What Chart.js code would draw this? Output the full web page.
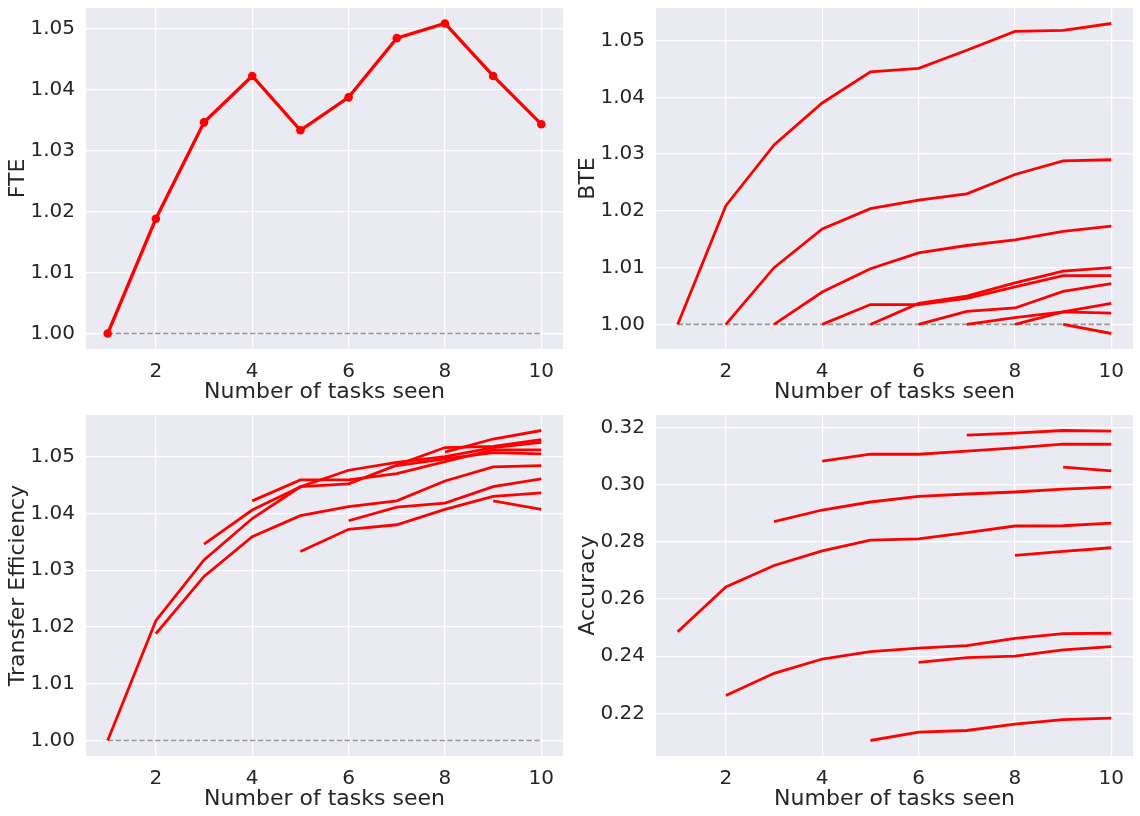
<!DOCTYPE html>
<html><head><meta charset="utf-8">
<script src="https://cdn.jsdelivr.net/npm/chart.js@4.4.1/dist/chart.umd.min.js"></script>
<style>
html,body{margin:0;padding:0;background:#fff;}
body{width:1140px;height:816px;position:relative;overflow:hidden;}
.p{position:absolute;width:570px;height:408px;}
canvas{display:block;}
</style></head><body>
<div class="p" style="left:0;top:0"><canvas id="c1" width="570" height="408"></canvas></div>
<div class="p" style="left:570px;top:0"><canvas id="c2" width="570" height="408"></canvas></div>
<div class="p" style="left:0;top:407px"><canvas id="c3" width="570" height="408"></canvas></div>
<div class="p" style="left:570px;top:407px"><canvas id="c4" width="570" height="408"></canvas></div>
<script>
// ---------- data ----------
const tasks = [1,2,3,4,5,6,7,8,9,10];
const xTicks = [2,4,6,8,10];
const effTicks = [1.00,1.01,1.02,1.03,1.04,1.05];
const accTicks = [0.22,0.24,0.26,0.28,0.30,0.32];

const fteValues = [1.000,1.0188,1.0346,1.0422,1.0333,1.0387,1.0484,1.0508,1.0422,1.0343];

const bteTask1 = [1.000,1.0209,1.0316,1.0390,1.0445,1.0451,1.0483,1.0516,1.0518,1.0530];
const bteTask2 = [1.000,1.0100,1.0168,1.0204,1.0219,1.0230,1.0264,1.0288,1.0290];
const bteTask3 = [1.000,1.0057,1.0098,1.0126,1.0139,1.0149,1.0164,1.0173];
const bteTask4 = [1.000,1.0035,1.0035,1.0046,1.0066,1.0086,1.0086];
const bteTask5 = [1.000,1.0037,1.0050,1.0073,1.0094,1.0100];
const bteTask6 = [1.000,1.0023,1.0029,1.0058,1.0072];
const bteTask7 = [1.000,1.0012,1.0022,1.0020];
const bteTask8 = [1.000,1.0022,1.0037];
const bteTask9 = [1.000,0.9984];
const bteTask10 = [1.000];

const teTask1 = [1.000,1.0211,1.0318,1.0391,1.0447,1.0452,1.0485,1.0516,1.0518,1.0530];
const teTask2 = [1.0188,1.0289,1.0359,1.0396,1.0412,1.0422,1.0457,1.0482,1.0484];
const teTask3 = [1.0346,1.0406,1.0447,1.0476,1.0490,1.0500,1.0516,1.0525];
const teTask4 = [1.0422,1.0459,1.0459,1.0470,1.0491,1.0512,1.0512];
const teTask5 = [1.0333,1.0372,1.0380,1.0407,1.0430,1.0436];
const teTask6 = [1.0387,1.0411,1.0418,1.0447,1.0461];
const teTask7 = [1.0484,1.0496,1.0507,1.0505];
const teTask8 = [1.0508,1.0531,1.0546];
const teTask9 = [1.0422,1.0407];
const teTask10 = [1.0343];

const accTask1 = [0.2485,0.2642,0.2717,0.2768,0.2806,0.2810,0.2832,0.2855,0.2856,0.2865];
const accTask2 = [0.2262,0.2340,0.2390,0.2416,0.2428,0.2437,0.2462,0.2479,0.2480];
const accTask3 = [0.2870,0.2911,0.2939,0.2959,0.2967,0.2974,0.2984,0.2991];
const accTask4 = [0.3082,0.3106,0.3106,0.3117,0.3128,0.3141,0.3141];
const accTask5 = [0.2105,0.2134,0.2140,0.2162,0.2178,0.2183];
const accTask6 = [0.2378,0.2395,0.2400,0.2422,0.2433];
const accTask7 = [0.3173,0.3180,0.3189,0.3187];
const accTask8 = [0.2752,0.2766,0.2779];
const accTask9 = [0.3061,0.3048];

const xTitle = 'Number of tasks seen';

// ---------- helpers ----------
const FONT = "'DejaVu Sans', sans-serif";
const TXT = '#262626';
const RED = '#ff0000';

// a series that begins at task `start` (1-based)
function pts(values, start){ return values.map((v,i)=>({x:tasks[start-1+i], y:v})); }

const bgPlugin = {
  id:'bg',
  beforeDraw(chart){
    const {ctx, chartArea:a} = chart;
    ctx.save(); ctx.fillStyle = '#EAEAF2';
    ctx.fillRect(a.left, a.top, a.right-a.left, a.bottom-a.top);
    ctx.restore();
  }
};

function makeChart(id, datasets, yTitle, yTicksArr, decimals, withBaseline){
  let all = [];
  datasets.forEach(d=>d.data.forEach(p=>all.push(p.y)));
  const ymin = Math.min(...all), ymax = Math.max(...all);
  const my = (ymax-ymin)*0.05;
  const xmin = Math.min(...tasks), xmax = Math.max(...tasks);
  const mx = (xmax-xmin)*0.05;
  const ds = datasets.slice();
  if (withBaseline){
    ds.push({data:[{x:xmin,y:1},{x:xmax,y:1}], borderColor:'#979797', borderWidth:1.6,
      borderDash:[5.5,2.4], pointRadius:0, order:5, fill:false});
  }
  return new Chart(document.getElementById(id), {
    type:'line',
    data:{datasets:ds},
    options:{
      responsive:false, animation:false, devicePixelRatio:1,
      layout:{padding:{top:8, right:7, left:0, bottom:0}},
      plugins:{legend:{display:false}, tooltip:{enabled:false}},
      scales:{
        x:{type:'linear', min:xmin-mx, max:xmax+mx,
          afterBuildTicks:s=>{s.ticks = xTicks.map(v=>({value:v}));},
          afterFit:s=>{s.height = 59; s.paddingLeft = 0; s.paddingRight = 0;},
          grid:{color:'#ffffff', lineWidth:1.25, drawTicks:false},
          border:{display:false},
          ticks:{padding:11, color:TXT, font:{family:FONT, size:20}, callback:v=>String(v), maxRotation:0},
          title:{display:true, text:xTitle, color:TXT, font:{family:FONT, size:22}, padding:{top:0,bottom:3}}
        },
        y:{type:'linear', min:ymin-my, max:ymax+my,
          afterBuildTicks:s=>{s.ticks = yTicksArr.map(v=>({value:v}));},
          afterFit:s=>{s.width = 86; s.paddingTop = 0; s.paddingBottom = 0;},
          grid:{color:'#ffffff', lineWidth:1.25, drawTicks:false},
          border:{display:false},
          ticks:{padding:11, color:TXT, font:{family:FONT, size:20}, callback:v=>Number(v).toFixed(decimals)},
          title:{display:true, text:yTitle, color:TXT, font:{family:FONT, size:22}, padding:{top:5,bottom:0}}
        }
      }
    },
    plugins:[bgPlugin]
  });
}

function redLine(data, extra){
  return Object.assign({data, borderColor:RED, backgroundColor:RED, borderWidth:2.8,
    pointRadius:0, fill:false, tension:0, order:1}, extra||{});
}

// FTE
makeChart('c1', [
  redLine(pts(fteValues,1), {borderWidth:3.3, pointRadius:4.3, pointBorderWidth:0})
], 'FTE', effTicks, 2, true);

// BTE
makeChart('c2', [
  bteTask1,bteTask2,bteTask3,bteTask4,bteTask5,bteTask6,bteTask7,bteTask8,bteTask9,bteTask10
].map((v,i)=>redLine(pts(v,i+1))), 'BTE', effTicks, 2, true);

// Transfer Efficiency
makeChart('c3', [
  teTask1,teTask2,teTask3,teTask4,teTask5,teTask6,teTask7,teTask8,teTask9,teTask10
].map((v,i)=>redLine(pts(v,i+1))), 'Transfer Efficiency', effTicks, 2, true);

// Accuracy
makeChart('c4', [
  accTask1,accTask2,accTask3,accTask4,accTask5,accTask6,accTask7,accTask8,accTask9
].map((v,i)=>redLine(pts(v,i+1))), 'Accuracy', accTicks, 2, false);
</script>
</body></html>
